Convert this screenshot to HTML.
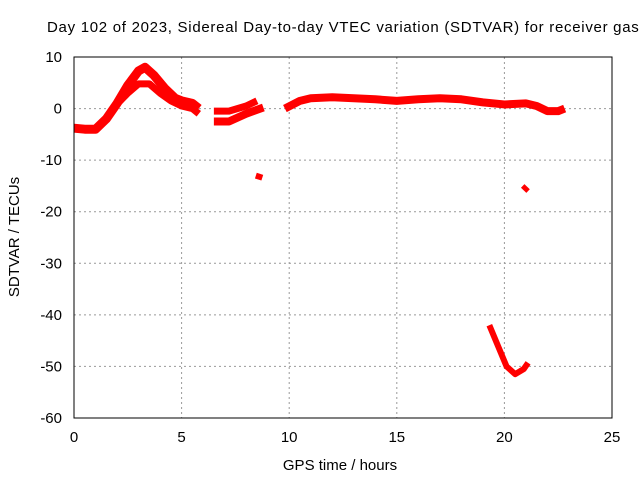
<!DOCTYPE html>
<html><head><meta charset="utf-8"><style>
body{margin:0;background:#fff}
svg text{font-family:"Liberation Sans",sans-serif;font-size:15px;fill:#000}
</style></head><body>
<svg width="640" height="480" id="c">
<text x="47" y="32" text-anchor="start" textLength="600" lengthAdjust="spacing">Day 102 of 2023, Sidereal Day-to-day VTEC variation (SDTVAR) for receiver gasc</text>
<text x="340" y="470" text-anchor="middle">GPS time / hours</text>
<text transform="translate(19,237) rotate(-90)" text-anchor="middle">SDTVAR / TECUs</text>
<g id="grid"></g><g id="ticks"></g><g id="data"></g>
<rect x="74" y="57" width="538" height="361" fill="none" stroke="#000" stroke-width="1"/>
</svg>
<script>
const xTicks=[0,5,10,15,20,25];
const yTicks=[10,0,-10,-20,-30,-40,-50,-60];
const seriesMainUpper=[[0,-3.8],[0.5,-4],[1,-4],[1.5,-2],[2,1],[2.5,4.5],[3,7.3],[3.3,8],[3.7,6.5],[4.2,4],[4.7,2],[5,1.5],[5.5,1],[5.8,0]];
const seriesMainLower=[[1.8,0],[2.5,3],[3,4.8],[3.5,4.8],[4,3],[4.5,1.5],[5,0.5],[5.5,0],[5.8,-1]];
const seriesMidUpper=[[6.5,-0.5],[7.2,-0.5],[8,0.5],[8.5,1.5]];
const seriesMidLower=[[6.5,-2.5],[7.2,-2.5],[8,-1],[8.8,0.2]];
const seriesPatch=[[8.45,-13],[8.75,-13.4]];
const seriesLate=[[9.8,0],[10.5,1.5],[11,2],[12,2.2],[13,2],[14,1.8],[15,1.5],[16,1.8],[17,2],[18,1.8],[19,1.2],[20,0.8],[21,1],[21.5,0.5],[22,-0.5],[22.5,-0.5],[22.8,0]];
const seriesSmall=[[20.85,-15],[21.1,-16]];
const seriesDip=[[19.3,-42],[19.7,-46],[20.1,-50],[20.5,-51.5],[20.9,-50.5],[21.1,-49.3]];
const NS='http://www.w3.org/2000/svg';
const X=v=>74+v*538/25, Y=v=>57+(10-v)*361/70;
function mk(t,a,p){const e=document.createElementNS(NS,t);for(const k in a)e.setAttribute(k,a[k]);document.getElementById(p).appendChild(e);return e;}
xTicks.forEach(t=>{
 if(t>0&&t<25){const g=mk('line',{x1:X(t),x2:X(t),y1:57,y2:418,stroke:'#999','stroke-dasharray':'2,3'},'grid');
 
 }
 const l=mk('text',{x:X(t),y:442,'text-anchor':'middle'},'ticks');l.textContent=t;
 
 
});
yTicks.forEach(t=>{
 if(t<10&&t>-60){const g=mk('line',{x1:74,x2:612,y1:Y(t),y2:Y(t),stroke:'#999','stroke-dasharray':'2,3'},'grid');
 
 }
 const l=mk('text',{x:62,y:Y(t)+5,'text-anchor':'end'},'ticks');l.textContent=t;
 
 
});
[[seriesMainUpper,'series-main-upper',9],[seriesMainLower,'series-main-lower',7],[seriesMidUpper,'series-mid-upper',7],[seriesMidLower,'series-mid-lower',8],[seriesPatch,'series-patch',6],[seriesLate,'series-late',8],[seriesSmall,'series-small',5],[seriesDip,'series-dip',6]].forEach(([d,n,w])=>{
 const p=mk('polyline',{points:d.map(q=>X(q[0])+','+Y(q[1])).join(' '),fill:'none',stroke:'#f00','stroke-width':w,'stroke-linejoin':'round','stroke-linecap':'butt'},'data');
 
 
});
</script>
</body></html>
